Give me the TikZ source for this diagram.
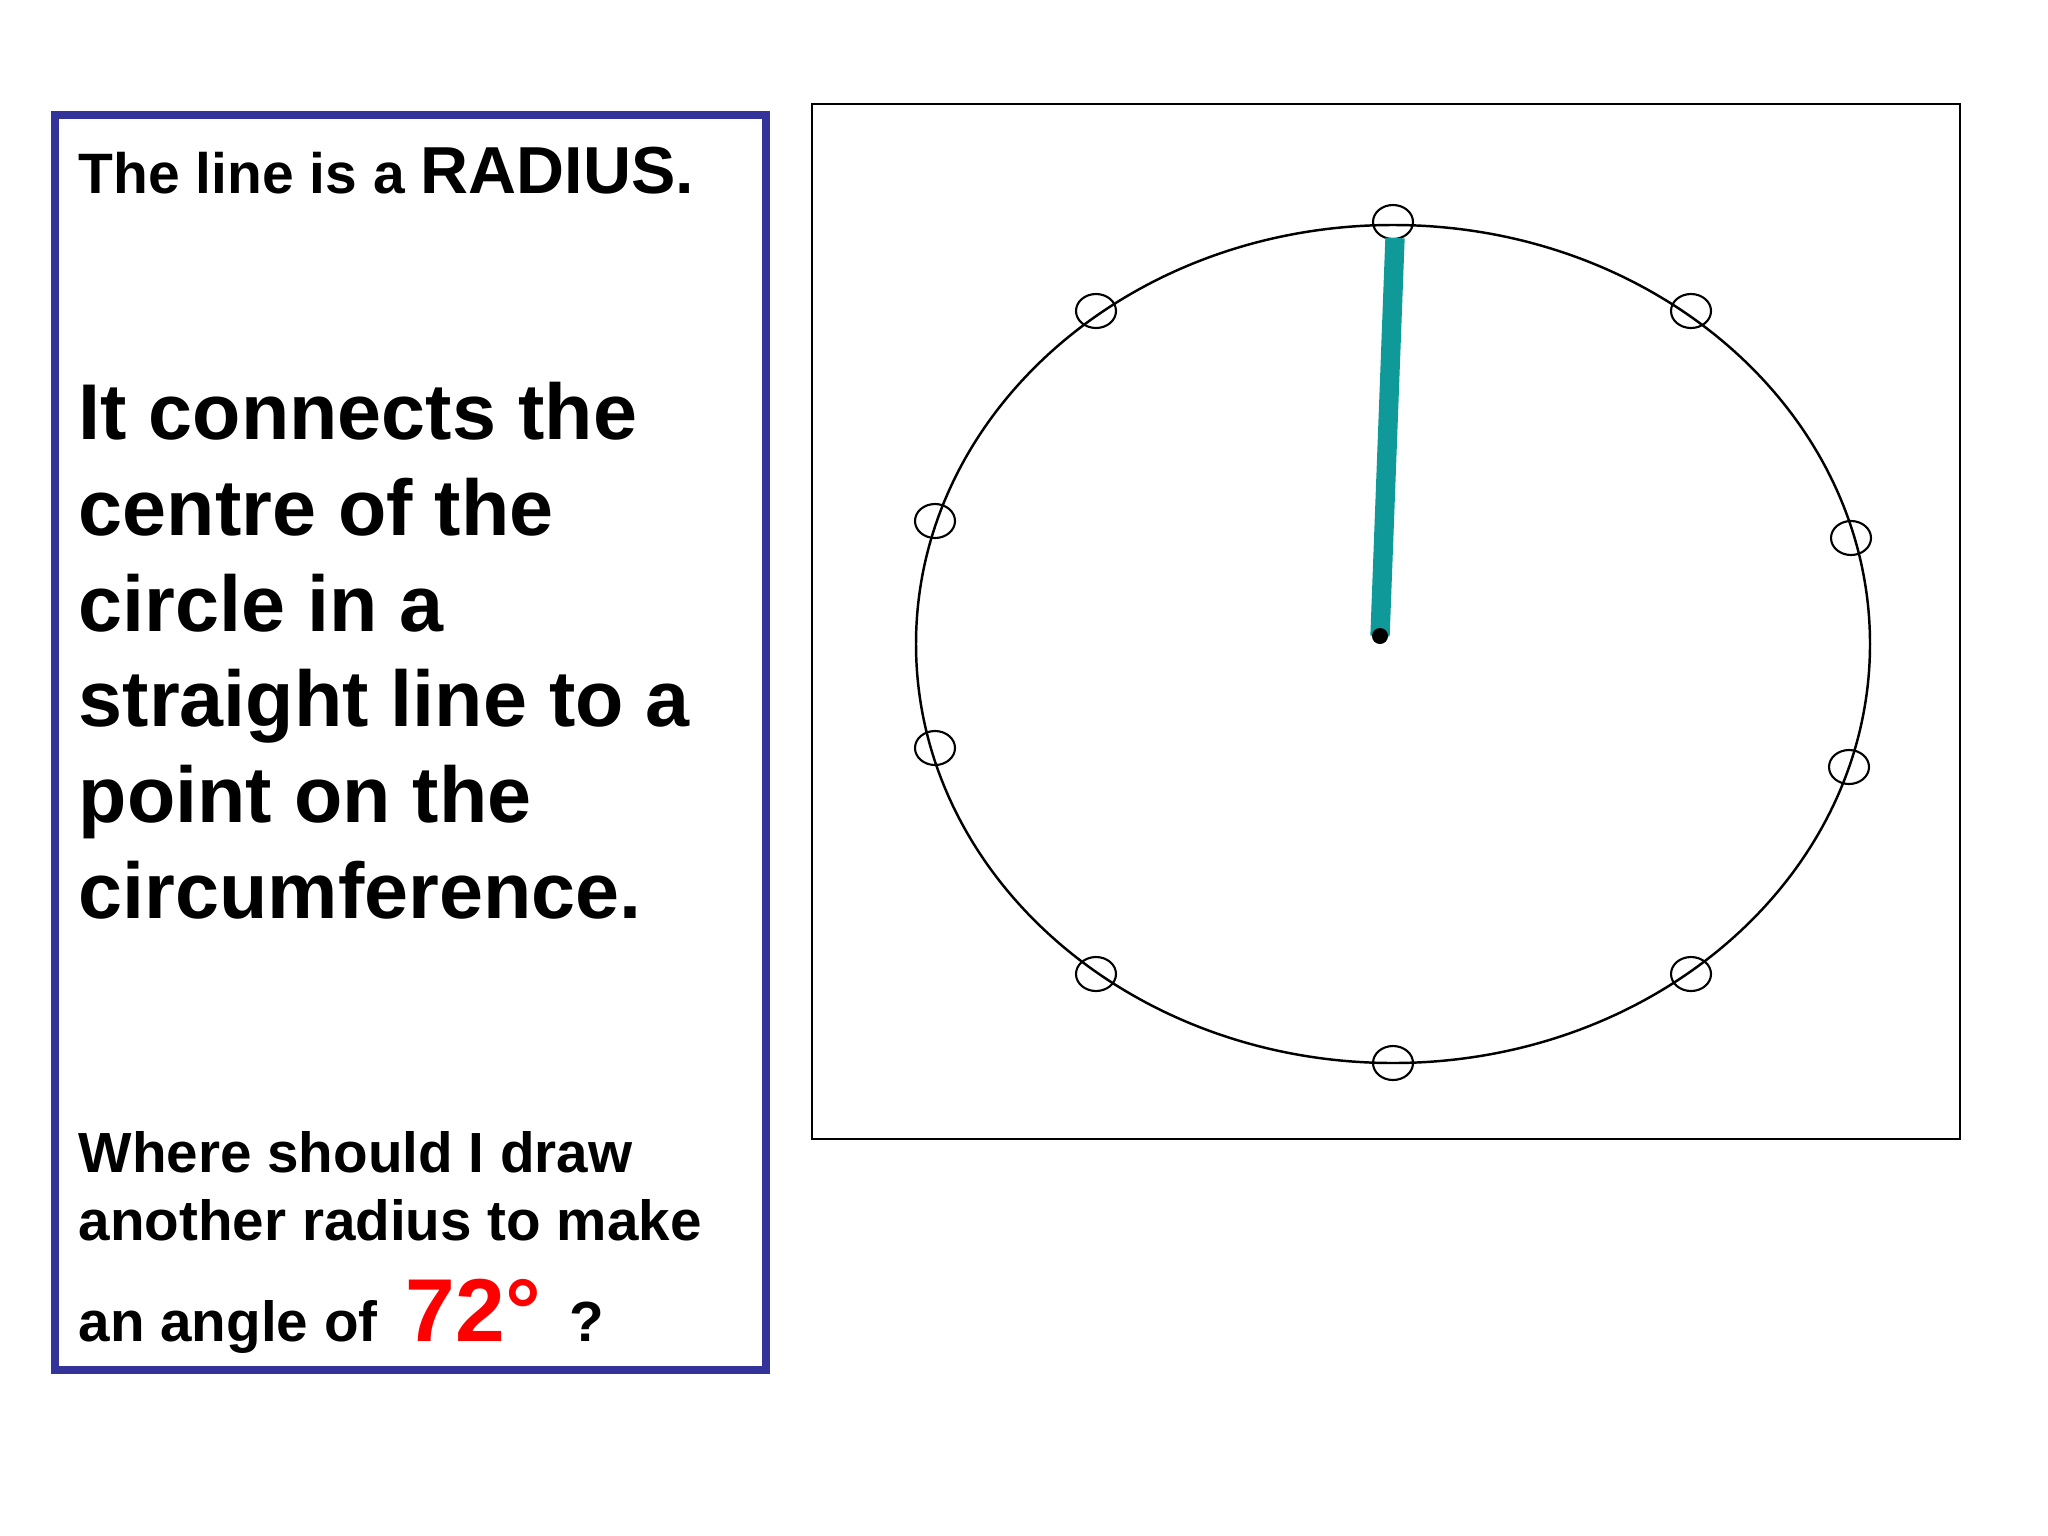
\documentclass[tikz,border=0pt]{standalone}
\usepackage{fontspec}
\setmainfont{Liberation Sans}
\definecolor{boxblue}{RGB}{51,51,153}
\definecolor{radteal}{RGB}{16,153,153}
\tikzset{
  txt/.style={anchor=base west,inner sep=0pt,align=left},
  pinring/.style={line width=0.6pt}
}
\begin{document}
\begin{tikzpicture}[x=0.01cm,y=-0.01cm]
        \useasboundingbox (0,0) rectangle (2048,1536);
        % text panel
        \draw[boxblue,line width=2.4pt] (55,115) rectangle (766,1370);
        \node[txt,font=\bfseries\fontsize{16.2}{19}\selectfont] (title) at (78,193)
          {The line is a {\fontsize{18.9}{22}\selectfont RADIUS.}};
        \node[txt,font=\bfseries\fontsize{22.5}{27.2}\selectfont] (def) at (78,918)
          {It connects the\\centre of the\\circle in a\\straight line to a\\point on the\\circumference.};
        \node[txt,font=\bfseries\fontsize{16.1}{19.3}\selectfont] (ask) at (78,1341)
          {Where should I draw\\another radius to make\\[9.4pt]an angle of\enspace{\color{red}\fontsize{25.4}{30}\selectfont 72°}\enspace ?};
        % circle panel
        \draw[line width=0.6pt] (812,104) rectangle (1960,1139);
        \coordinate (C) at (1393,644);
        \draw[line width=0.7pt] (C) ellipse [x radius=477,y radius=419];
        \foreach \p in {(1393,222),(1096,311),(1691,311),(935,521),(1851,538),
                        (935,748),(1849,767),(1096,974),(1691,974),(1393,1063)}
          \draw[pinring] \p ellipse [x radius=20,y radius=17];
        \coordinate (O) at (1380,636);
        \coordinate (P) at (1395,238);
        \draw[radteal,line width=5.5pt] (O) -- (P);
        \fill (O) circle (8);
\end{tikzpicture}
\end{document}
